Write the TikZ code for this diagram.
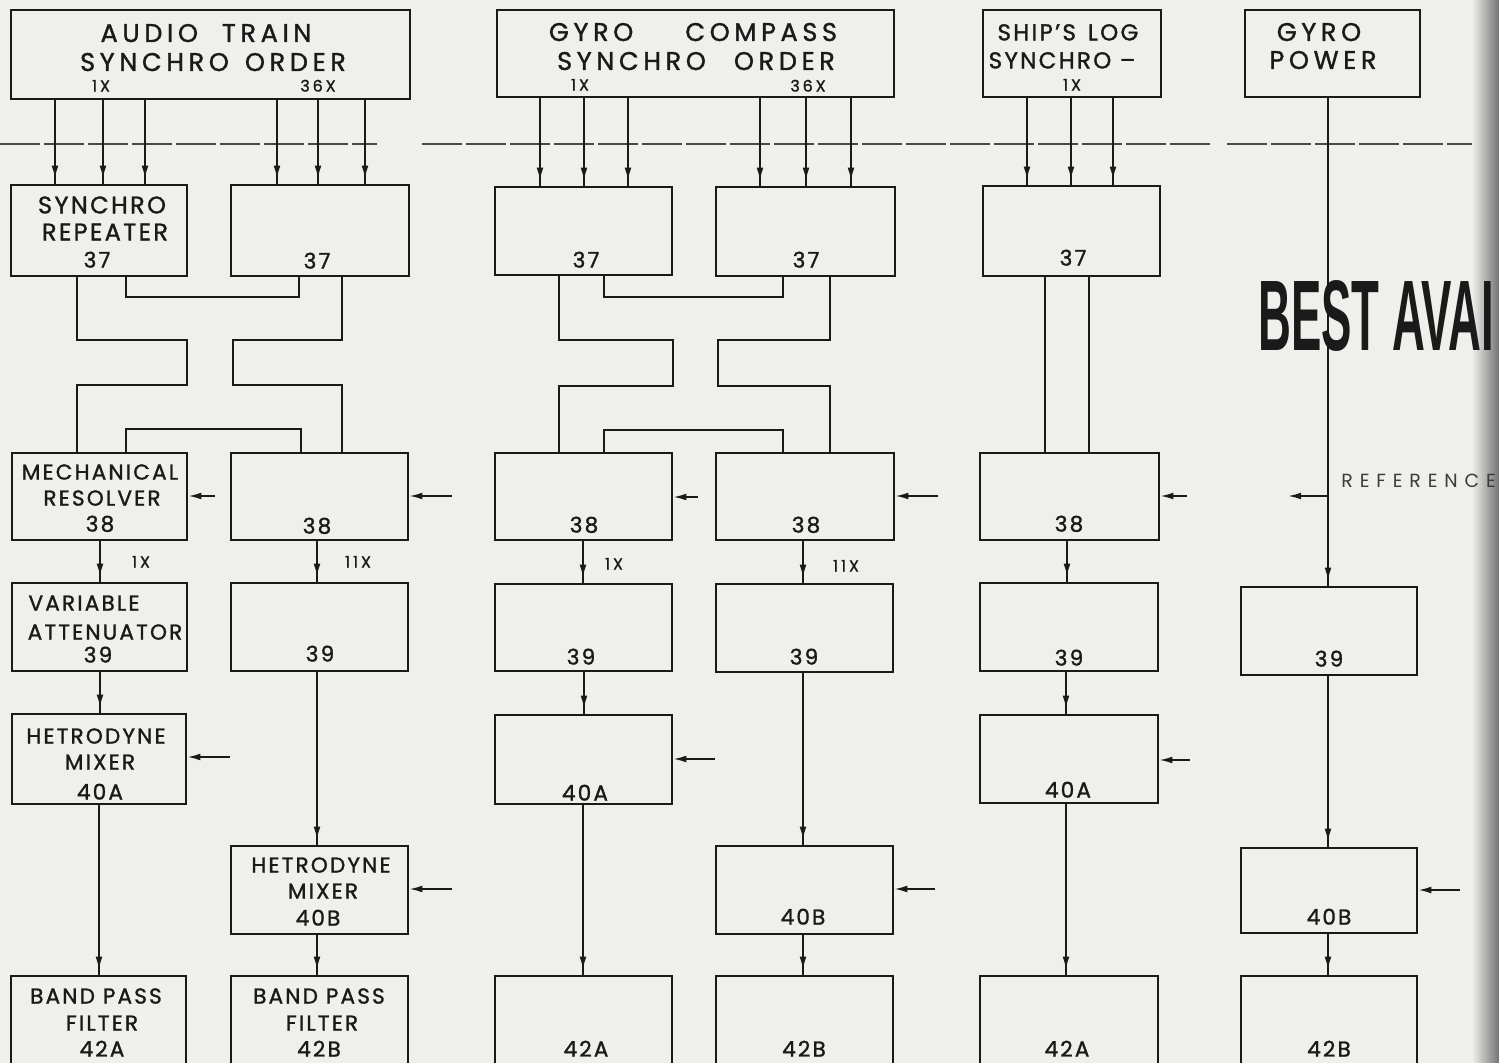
\documentclass[tikz,border=0pt]{standalone}
\usepackage{fontspec}
\setmainfont{Poppins}
\newfontfamily\hand{Poppins}[LetterSpace=10,FakeBold=1.3]
\newfontfamily\handw{Poppins}[LetterSpace=18,FakeBold=1.3]
\newfontfamily\handr{Poppins}[LetterSpace=36]
\newfontfamily\stampfont{Liberation Sans}
\usetikzlibrary{arrows.meta,decorations.markings}
\definecolor{paper}{HTML}{EFEFEC}
\definecolor{ink}{HTML}{1A1A1A}
\newcommand\mkbox[5]{\node[box, minimum width={(#4-#2)*0.5pt}, minimum height={(#5-#3)*0.5pt}] (#1) at ({(#2+#4)/2},{(#3+#5)/2}) {};}
\begin{document}
\begin{tikzpicture}[x=0.5pt,y=-0.5pt,
  box/.style={draw=ink, line width=1.4pt, inner sep=0pt},
  wire/.style={draw=ink, line width=0.85pt},
  tipwire/.style={wire, postaction={decorate}, decoration={markings, mark=at position -2.5pt with {\arrow{Latex[length=6.5pt,width=3.4pt]}}}},
  side/.style={wire, -{Latex[length=6.5pt,width=3.4pt]}},
  dashline/.style={draw=ink!80, line width=0.7pt, dash pattern=on 20pt off 2pt},
  ttl/.style={inner sep=0pt, text height=9pt, text depth=0pt, text=ink, font=\handw\fontsize{12.8}{13}\selectfont},
  lab/.style={inner sep=0pt, text height=8.4pt, text depth=0pt, text=ink, font=\hand\fontsize{12}{12}\selectfont},
  labs/.style={inner sep=0pt, text height=7.6pt, text depth=0pt, text=ink, font=\hand\fontsize{10.8}{12}\selectfont},
  num/.style={inner sep=0pt, text height=7.6pt, text depth=0pt, text=ink, font=\hand\fontsize{10.8}{12}\selectfont},
  sm/.style={inner sep=0pt, text height=5.6pt, text depth=0pt, text=ink, font=\handw\fontsize{8}{9}\selectfont}
]
\useasboundingbox (0,0) rectangle (1499,1063);
\clip (0,0) rectangle (1499,1063);
\fill[paper] (0,0) rectangle (1499,1063);

% dashed separation line
\draw[dashline] (0,144) -- (377,144);
\draw[dashline] (422,144) -- (1210,144);
\draw[dashline] (1227,144) -- (1499,144);

% top boxes
\mkbox{TA}{11}{10}{410}{99}
\mkbox{TG}{497}{10}{894}{97}
\mkbox{TS}{983}{10}{1161}{97}
\mkbox{TP}{1245}{10}{1420}{97}
% row 1 (37)
\mkbox{c1r1}{11}{185}{187}{276}
\mkbox{c2r1}{231}{185}{409}{276}
\mkbox{c3r1}{495}{187}{672}{275}
\mkbox{c4r1}{716}{187}{895}{276}
\mkbox{c5r1}{983}{186}{1160}{276}
% row 2 (38)
\mkbox{c1r2}{12}{453}{187}{540}
\mkbox{c2r2}{231}{453}{408}{540}
\mkbox{c3r2}{495}{453}{672}{540}
\mkbox{c4r2}{716}{453}{894}{540}
\mkbox{c5r2}{980}{453}{1159}{540}
% row 3 (39)
\mkbox{c1r3}{12}{583}{187}{671}
\mkbox{c2r3}{231}{583}{408}{671}
\mkbox{c3r3}{495}{584}{672}{671}
\mkbox{c4r3}{716}{584}{893}{672}
\mkbox{c5r3}{980}{583}{1158}{671}
\mkbox{c6r3}{1241}{587}{1417}{675}
% row 4 (40A)
\mkbox{c1r4}{12}{714}{186}{804}
\mkbox{c3r4}{495}{715}{672}{804}
\mkbox{c5r4}{980}{715}{1158}{803}
% row 5 (40B)
\mkbox{c2r5}{231}{846}{408}{934}
\mkbox{c4r5}{716}{846}{893}{934}
\mkbox{c6r5}{1241}{848}{1417}{933}
% row 6 (42)
\mkbox{c1r6}{11}{976}{186}{1085}
\mkbox{c2r6}{231}{976}{408}{1085}
\mkbox{c3r6}{495}{976}{672}{1085}
\mkbox{c4r6}{716}{976}{893}{1085}
\mkbox{c5r6}{980}{976}{1158}{1085}
\mkbox{c6r6}{1241}{976}{1417}{1085}

% synchro wires
\foreach \x in {55,103,145} \draw[tipwire] (\x,0 |- TA.south) -- (\x,0 |- c1r1.north);
\foreach \x in {277,318,365} \draw[tipwire] (\x,0 |- TA.south) -- (\x,0 |- c2r1.north);
\foreach \x in {540,584,628} \draw[tipwire] (\x,0 |- TG.south) -- (\x,0 |- c3r1.north);
\foreach \x in {760,806,851} \draw[tipwire] (\x,0 |- TG.south) -- (\x,0 |- c4r1.north);
\foreach \x in {1027,1071,1113} \draw[tipwire] (\x,0 |- TS.south) -- (\x,0 |- c5r1.north);

% gyro power feed
\draw[tipwire] (1328,0 |- TP.south) -- (1328,0 |- c6r3.north);
\coordinate (refbr) at (1328,496);
\coordinate (refend) at (1288,496);
\draw[side] (refbr) -- (refend);

% crossover wiring, audio train
\draw[wire] (77,0 |- c1r1.south) -- (77,340) -- (187,340) -- (187,385) -- (77,385) -- (77,0 |- c1r2.north);
\draw[wire] (342,0 |- c2r1.south) -- (342,340) -- (233,340) -- (233,385) -- (342,385) -- (342,0 |- c2r2.north);
\draw[wire] (126,0 |- c1r1.south) -- (126,297) -- (299,297) -- (299,0 |- c2r1.south);
\draw[wire] (126,0 |- c1r2.north) -- (126,429) -- (301,429) -- (301,0 |- c2r2.north);
% crossover wiring, gyro compass
\draw[wire] (559,0 |- c3r1.south) -- (559,340) -- (673,340) -- (673,386) -- (559,386) -- (559,0 |- c3r2.north);
\draw[wire] (830,0 |- c4r1.south) -- (830,340) -- (718,340) -- (718,386) -- (830,386) -- (830,0 |- c4r2.north);
\draw[wire] (604,0 |- c3r1.south) -- (604,297) -- (783,297) -- (783,0 |- c4r1.south);
\draw[wire] (604,0 |- c3r2.north) -- (604,430) -- (783,430) -- (783,0 |- c4r2.north);
% ship's log
\draw[wire] (1045,0 |- c5r1.south) -- (1045,0 |- c5r2.north);
\draw[wire] (1089,0 |- c5r1.south) -- (1089,0 |- c5r2.north);

% vertical signal chain
\draw[tipwire] (100,0 |- c1r2.south) -- (100,0 |- c1r3.north);
\draw[tipwire] (317,0 |- c2r2.south) -- (317,0 |- c2r3.north);
\draw[tipwire] (583,0 |- c3r2.south) -- (583,0 |- c3r3.north);
\draw[tipwire] (803,0 |- c4r2.south) -- (803,0 |- c4r3.north);
\draw[tipwire] (1067,0 |- c5r2.south) -- (1067,0 |- c5r3.north);

\draw[tipwire] (100,0 |- c1r3.south) -- (100,0 |- c1r4.north);
\draw[tipwire] (584,0 |- c3r3.south) -- (584,0 |- c3r4.north);
\draw[tipwire] (1066,0 |- c5r3.south) -- (1066,0 |- c5r4.north);

\draw[tipwire] (317,0 |- c2r3.south) -- (317,0 |- c2r5.north);
\draw[tipwire] (803,0 |- c4r3.south) -- (803,0 |- c4r5.north);
\draw[tipwire] (1328,0 |- c6r3.south) -- (1328,0 |- c6r5.north);

\draw[tipwire] (99,0 |- c1r4.south) -- (99,0 |- c1r6.north);
\draw[tipwire] (583,0 |- c3r4.south) -- (583,0 |- c3r6.north);
\draw[tipwire] (1066,0 |- c5r4.south) -- (1066,0 |- c5r6.north);

\draw[tipwire] (317,0 |- c2r5.south) -- (317,0 |- c2r6.north);
\draw[tipwire] (803,0 |- c4r5.south) -- (803,0 |- c4r6.north);
\draw[tipwire] (1328,0 |- c6r5.south) -- (1328,0 |- c6r6.north);

% side inputs
\coordinate (i12) at (215,496); \draw[side] (i12) -- (i12 -| c1r2.east);
\coordinate (i22) at (452,496); \draw[side] (i22) -- (i22 -| c2r2.east);
\coordinate (i32) at (698,497); \draw[side] (i32) -- (i32 -| c3r2.east);
\coordinate (i42) at (938,496); \draw[side] (i42) -- (i42 -| c4r2.east);
\coordinate (i52) at (1187,496); \draw[side] (i52) -- (i52 -| c5r2.east);
\coordinate (i14) at (230,757); \draw[side] (i14) -- (i14 -| c1r4.east);
\coordinate (i34) at (715,759); \draw[side] (i34) -- (i34 -| c3r4.east);
\coordinate (i54) at (1190,760); \draw[side] (i54) -- (i54 -| c5r4.east);
\coordinate (i25) at (452,889); \draw[side] (i25) -- (i25 -| c2r5.east);
\coordinate (i45) at (935,889); \draw[side] (i45) -- (i45 -| c4r5.east);
\coordinate (i65) at (1460,890); \draw[side] (i65) -- (i65 -| c6r5.east);

% texts: top boxes
\node[ttl] (tA1) at (206,33) {AUDIO\hspace{12pt}TRAIN};
\node[ttl] (tA2) at (213,62) {SYNCHRO\hspace{8pt}ORDER};
\node[sm] (tA3) at (101,86) {1X};
\node[sm] (tA4) at (318,86) {36X};
\node[ttl] (tG1) at (693,32) {GYRO\hspace{26pt}COMPASS};
\node[ttl] (tG2) at (696,61) {SYNCHRO\hspace{14pt}ORDER};
\node[sm] (tG3) at (580,85) {1X};
\node[sm] (tG4) at (808,86) {36X};
\node[lab, font=\hand\fontsize{11.5}{12}\selectfont] (tS1) at (1068,32) {SHIP’S\hspace{6pt}LOG};
\node[lab, font=\hand\fontsize{11.5}{12}\selectfont] (tS2) at (1062,60) {SYNCHRO –};
\node[sm] (tS3) at (1072,85) {1X};
\node[ttl] (tP1) at (1319,32) {GYRO};
\node[ttl] (tP2) at (1323,60) {POWER};

% row 1
\node[lab] (t11a) at (102,205) {SYNCHRO};
\node[lab] (t11b) at (105,232) {REPEATER};
\node[num] (t11c) at (97,260) {37};
\node[num] (t21) at (317,261) {37};
\node[num] (t31) at (586,260) {37};
\node[num] (t41) at (806,260) {37};
\node[num] (t51) at (1073,258) {37};
% row 2
\node[labs] (t12a) at (100,472) {MECHANICAL};
\node[labs] (t12b) at (102,498) {RESOLVER};
\node[num] (t12c) at (100,524) {38};
\node[num] (t22) at (317,526) {38};
\node[num] (t32) at (584,525) {38};
\node[num] (t42) at (806,525) {38};
\node[num] (t52) at (1069,524) {38};
\node[sm] (x12) at (141,562) {1X};
\node[sm] (x22) at (358,562) {11X};
\node[sm] (x32) at (614,564) {1X};
\node[sm] (x42) at (846,566) {11X};
% row 3
\node[labs] (t13a) at (84,603) {VARIABLE};
\node[labs] (t13b) at (105,632) {ATTENUATOR};
\node[num] (t13c) at (98,655) {39};
\node[num] (t23) at (320,654) {39};
\node[num] (t33) at (581,657) {39};
\node[num] (t43) at (804,657) {39};
\node[num] (t53) at (1069,658) {39};
\node[num] (t63) at (1329,659) {39};
% row 4
\node[labs] (t14a) at (96,736) {HETRODYNE};
\node[labs] (t14b) at (100,762) {MIXER};
\node[num] (t14c) at (100,792) {40A};
\node[num] (t34) at (585,793) {40A};
\node[num] (t54) at (1068,790) {40A};
% row 5
\node[labs] (t25a) at (321,865) {HETRODYNE};
\node[labs] (t25b) at (323,891) {MIXER};
\node[num] (t25c) at (318,918) {40B};
\node[num] (t45) at (803,917) {40B};
\node[num] (t65) at (1329,917) {40B};
% row 6
\node[labs] (t16a) at (96,996) {BAND PASS};
\node[labs] (t16b) at (102,1023) {FILTER};
\node[num] (t16c) at (102,1049) {42A};
\node[labs] (t26a) at (319,996) {BAND PASS};
\node[labs] (t26b) at (322,1023) {FILTER};
\node[num] (t26c) at (319,1049) {42B};
\node[num] (t36) at (586,1049) {42A};
\node[num] (t46) at (804,1049) {42B};
\node[num] (t56) at (1067,1049) {42A};
\node[num] (t66) at (1329,1049) {42B};

% page edge shadow
\shade[left color=paper, right color=black!55] (1472,0) rectangle (1499,1063);

% reference label and stamp
\node[anchor=west, inner sep=0pt, text height=6.5pt, text depth=0pt, text=ink!85, font=\handr\fontsize{9.5}{10}\selectfont] (reflab) at (1341,481) {REFERENCE};
\node[anchor=south west, inner sep=0pt, text=ink, font=\stampfont\bfseries\fontsize{49}{49}\selectfont] (stamp) at (1258,352) {\resizebox{118pt}{35pt}{BEST AVAI}};
\end{tikzpicture}
\end{document}
